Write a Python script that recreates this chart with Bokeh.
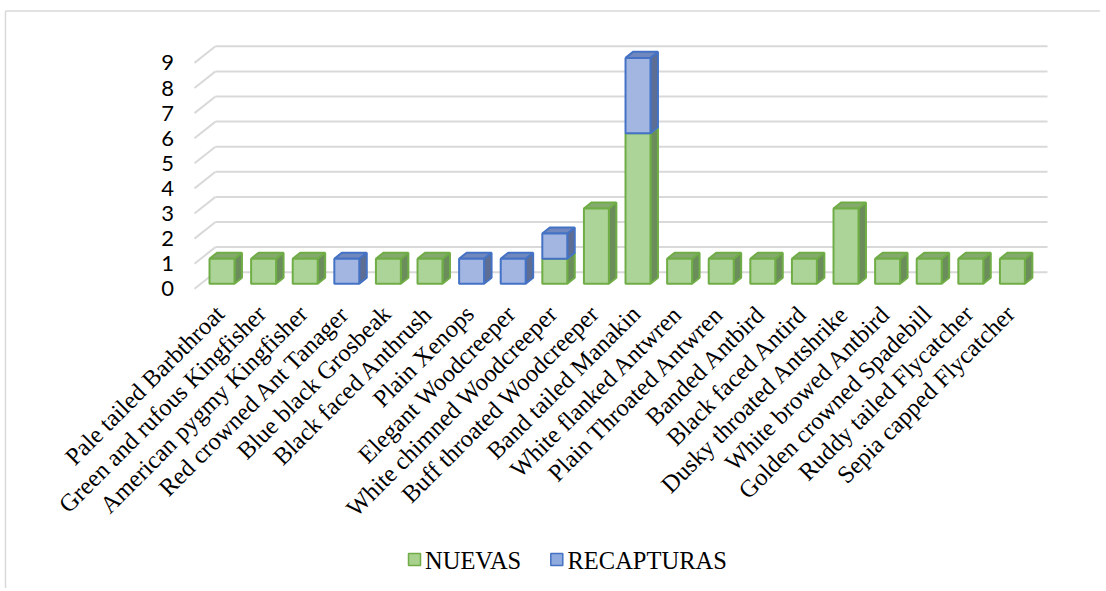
from math import pi
from bokeh.plotting import figure
from bokeh.models import Range1d
from bokeh.core.properties import value
from bokeh.embed import file_html
from bokeh.resources import INLINE

# ---------------- data ----------------
species = [
    "Pale tailed Barbthroat", "Green and rufous Kingfisher", "American pygmy Kingfisher",
    "Red crowned Ant Tanager", "Blue black Grosbeak", "Black faced Anthrush",
    "Plain Xenops", "Elegant Woodcreeper", "White chimned Woodcreeper",
    "Buff throated Woodcreeper", "Band tailed Manakin", "White flanked Antwren",
    "Plain Throated Antwren", "Banded Antbird", "Black faced Antird",
    "Dusky throated Antshrike", "White browed Antbird", "Golden crowned Spadebill",
    "Ruddy tailed Flycatcher", "Sepia capped Flycatcher",
]
nuevas =     [1, 1, 1, 0, 1, 1, 0, 0, 1, 3, 6, 1, 1, 1, 1, 3, 1, 1, 1, 1]
recapturas = [0, 0, 0, 1, 0, 0, 1, 1, 1, 0, 3, 0, 0, 0, 0, 0, 0, 0, 0, 0]
y_ticks = [0, 1, 2, 3, 4, 5, 6, 7, 8, 9]
series_names = ["NUEVAS", "RECAPTURAS"]

# ---------------- layout constants ----------------
W, H = 1100, 588
OFF = 0
PX_X, X0 = 41.6, 221.5     # px per category, screen x of category 0
PX_Y, Y0 = 25.1, 288.3     # px per unit, screen y of value 0 (front plane)

def sx(px):  # screen x -> data x
    return (px - X0) / PX_X

def sy(py):  # screen y -> data y
    return (Y0 - py) / PX_Y

p = figure(width=W, height=H, output_backend="svg", toolbar_location=None,
           x_range=Range1d(sx(OFF), sx(OFF + W)), y_range=Range1d(sy(OFF + H), sy(OFF)),
           x_axis_location=None, y_axis_location=None, min_border=0,
           min_border_left=0, min_border_right=0, min_border_top=0, min_border_bottom=0)
p.grid.visible = False
p.outline_line_color = None
p.background_fill_color = "white"
p.border_fill_color = "white"

# chart border (top & left)
p.segment(x0=[sx(5), sx(5)], y0=[sy(10.5), sy(10.5)], x1=[sx(1106), sx(5)], y1=[sy(10.5), sy(600)],
          line_color="#d9d9d9", line_width=1.5)

# 3D back wall gridlines
DEPTH_X, DEPTH_Y = 0.505, 0.661
FRONT_L = sx(194)
BACK_R = sx(1047)
gx0 = [FRONT_L for v in y_ticks]
gy0 = [v for v in y_ticks]
gx1 = [FRONT_L + DEPTH_X for v in y_ticks]
gy1 = [v + DEPTH_Y for v in y_ticks]
p.segment(x0=gx0, y0=gy0, x1=gx1, y1=gy1, line_color="#d9d9d9", line_width=2)
p.segment(x0=gx1, y0=gy1, x1=[BACK_R for v in y_ticks], y1=gy1, line_color="#d9d9d9", line_width=2)

# y tick labels
p.text(x=[sx(173.5)] * len(y_ticks), y=y_ticks, text=[str(v) for v in y_ticks],
       text_align="right", text_baseline="middle", text_font=value("Lato"),
       text_font_size="22px", text_color="#000000")

# 3D stacked bars
HALF = 0.30
LIFT = 0.2
DDX, DDY = 0.18, 0.24
styles = {
    "NUEVAS": dict(front="#acd398", top="#84aa6e", side="#6a8d5b", line="#70ad47"),
    "RECAPTURAS": dict(front="#a3b6e2", top="#7088be", side="#5d6d93", line="#4472c4"),
}
bottoms = [0] * len(species)
for name, vals in zip(series_names, [nuevas, recapturas]):
    st = styles[name]
    fx, fy, tx, ty, sxs, sys_ = [], [], [], [], [], []
    for i, v in enumerate(vals):
        if v <= 0:
            continue
        b = bottoms[i] + LIFT
        t = bottoms[i] + v + LIFT
        l, r = i - HALF, i + HALF
        fx.append([l, r, r, l]); fy.append([b, b, t, t])
        tx.append([l, r, r + DDX, l + DDX]); ty.append([t, t, t + DDY, t + DDY])
        sxs.append([r, r + DDX, r + DDX, r]); sys_.append([b, b + DDY, t + DDY, t])
    p.patches(xs=sxs, ys=sys_, fill_color=st["side"], line_color=st["line"], line_width=2)
    p.patches(xs=tx, ys=ty, fill_color=st["top"], line_color=st["line"], line_width=2)
    p.patches(xs=fx, ys=fy, fill_color=st["front"], line_color=st["line"], line_width=2)
    bottoms = [bo + v for bo, v in zip(bottoms, vals)]

# category labels (rotated 45 deg)
p.text(x=[i - 0.05 for i in range(len(species))], y=[sy(309)] * len(species), text=species,
       angle=pi / 4, text_align="right", text_baseline="middle",
       text_font=value("Liberation Serif"), text_font_size="24.5px", text_color="#000000")

# legend
p.scatter(x=[sx(414), sx(556.3)], y=[sy(559), sy(559)], marker="square", size=12,
          fill_color=["#a9d18e", "#8faadc"], line_color=["#70ad47", "#4472c4"], line_width=1.5)
p.text(x=[sx(424.5), sx(567)], y=[sy(559.5), sy(559.5)], text=series_names,
       text_align="left", text_baseline="middle", text_font=value("Liberation Serif"),
       text_font_size="24.5px", text_color="#000000")

open("out.html", "w").write(file_html(p, INLINE))
